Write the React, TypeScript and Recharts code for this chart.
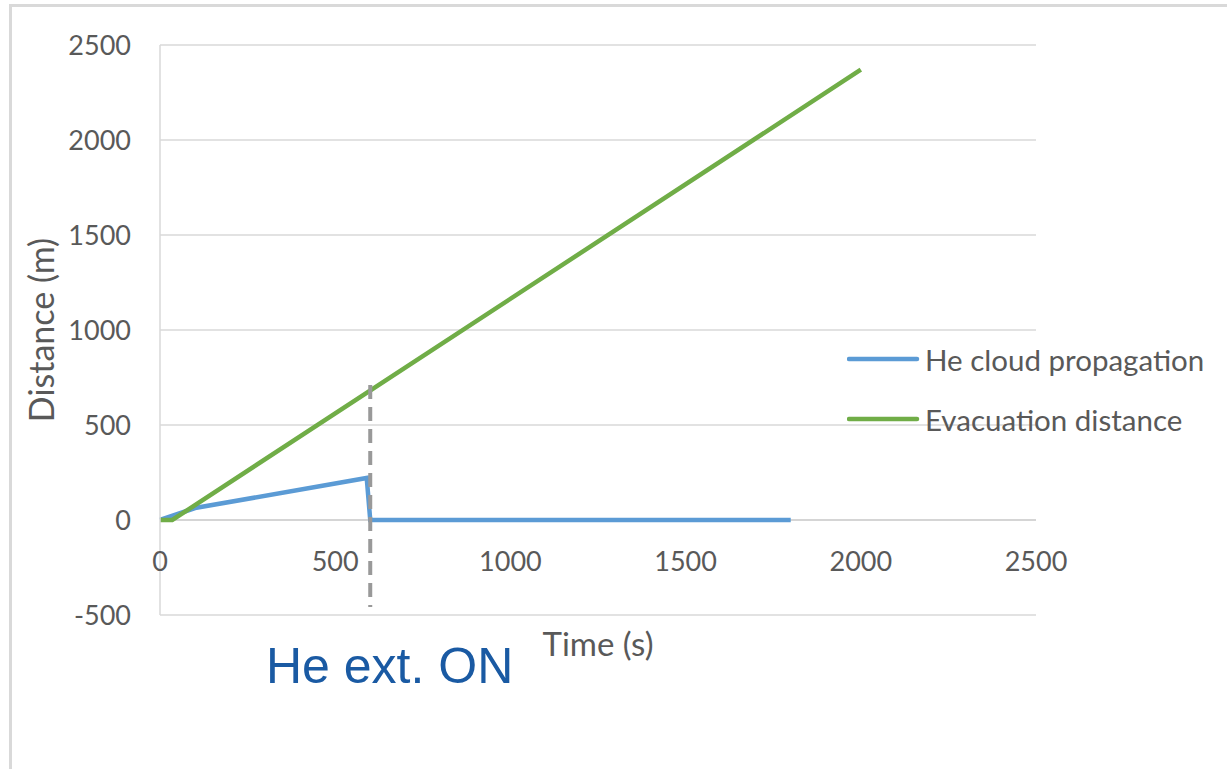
import React from "react";
import { LineChart, Line, XAxis, YAxis, CartesianGrid, ReferenceLine, Label } from "recharts";

const heTime = [0, 100, 590, 600, 1800];
const heDist = [0, 63, 221, 0, 0];
const evacTime = [0, 35, 2000];
const evacDist = [0, 0, 2370];
const xTicks = [0, 500, 1000, 1500, 2000, 2500];
const yTicks = [-500, 0, 500, 1000, 1500, 2000, 2500];
const extOnTime = 600;
const extOnSpan = [710, -458];
const seriesNames = ["He cloud propagation", "Evacuation distance"];
const seriesColors = ["#5B9BD5", "#70AD47"];

const heData = heTime.map((t, i) => ({ t, d: heDist[i] }));
const evacData = evacTime.map((t, i) => ({ t, d: evacDist[i] }));

const FONT = "Lato, 'Noto Sans', sans-serif";
const TXT = "#595959";

const XTick = (props: any) => {
  const { x, y, payload } = props;
  return (
    <text x={x} y={y - 55} textAnchor="middle" dominantBaseline="central" fill={TXT} fontSize={27} fontFamily={FONT}>
      {payload.value}
    </text>
  );
};

const XTitle = (props: any) => {
  const vb = props.viewBox || {};
  return (
    <text x={vb.x + vb.width / 2} y={vb.y + 28} textAnchor="middle" dominantBaseline="central" fill={TXT} fontSize={33} fontFamily={FONT}>
      Time (s)
    </text>
  );
};

const YTitle = (props: any) => {
  const vb = props.viewBox || {};
  const cx = 40;
  const cy = vb.y + vb.height / 2;
  return (
    <text x={cx} y={cy} transform={`rotate(-90 ${cx} ${cy})`} textAnchor="middle" dominantBaseline="central" fill={TXT} fontSize={34} fontFamily={FONT}>
      Distance (m)
    </text>
  );
};

const LegendBox = () => (
  <div style={{ position: "absolute", left: 847, top: 329, fontFamily: FONT, fontSize: 29.5, color: TXT, whiteSpace: "nowrap" }}>
    {seriesNames.map((n, i) => (
      <div key={n} style={{ display: "flex", alignItems: "center", height: 60 }}>
        <svg width={78} height={10}>
          <line x1={2} y1={5} x2={70} y2={5} stroke={seriesColors[i]} strokeWidth={4.5} strokeLinecap="round" />
        </svg>
        <span>{n}</span>
      </div>
    ))}
  </div>
);

export default function App() {
  return (
    <div style={{ position: "absolute", left: 0, top: 0, width: 1227, height: 769, background: "#fff", overflow: "hidden" }}>
      <div style={{ position: "absolute", left: 9, top: 4, width: 1240, height: 800, borderLeft: "3px solid #d9d9d9", borderTop: "3px solid #d9d9d9" }} />
      <div style={{ position: "absolute", left: 0, top: 0 }}>
        <LineChart width={1227} height={769} margin={{ top: 45, right: 191, bottom: 114, left: 100 }}>
          <CartesianGrid horizontal vertical={false} stroke="#d9d9d9" strokeWidth={1.5} />
          <XAxis
            type="number"
            dataKey="t"
            domain={[0, 2500]}
            ticks={xTicks}
            height={40}
            tickSize={0}
            tickMargin={0}
            axisLine={false}
            tickLine={false}
            tick={<XTick />}
            interval={0}
          >
            <Label content={<XTitle />} />
          </XAxis>
          <YAxis
            type="number"
            domain={[-500, 2500]}
            ticks={yTicks}
            width={60}
            tickSize={0}
            tickMargin={29}
            tickLine={false}
            axisLine={{ stroke: "#d9d9d9", strokeWidth: 1.5 }}
            tick={{ fill: TXT, fontSize: 27, fontFamily: FONT }}
            interval={0}
          >
            <Label content={<YTitle />} />
          </YAxis>
          <ReferenceLine y={0} stroke="#d0d0d0" strokeWidth={1.5} />
          <Line data={heData} dataKey="d" name={seriesNames[0]} stroke={seriesColors[0]} strokeWidth={4.5} dot={false} isAnimationActive={false} />
          <Line data={evacData} dataKey="d" name={seriesNames[1]} stroke={seriesColors[1]} strokeWidth={4.5} dot={false} isAnimationActive={false} />
          <ReferenceLine
            segment={[{ x: extOnTime, y: extOnSpan[0] }, { x: extOnTime, y: extOnSpan[1] }]}
            stroke="#999999"
            strokeWidth={4}
            strokeDasharray="14 8"
          />
        </LineChart>
      </div>
      <LegendBox />
      <div style={{ position: "absolute", left: 266, top: 638, fontFamily: "'Liberation Sans', Arial, sans-serif", fontSize: 50, color: "#1a5aa3", lineHeight: "56px", whiteSpace: "nowrap" }}>
        He ext. ON
      </div>
    </div>
  );
}
